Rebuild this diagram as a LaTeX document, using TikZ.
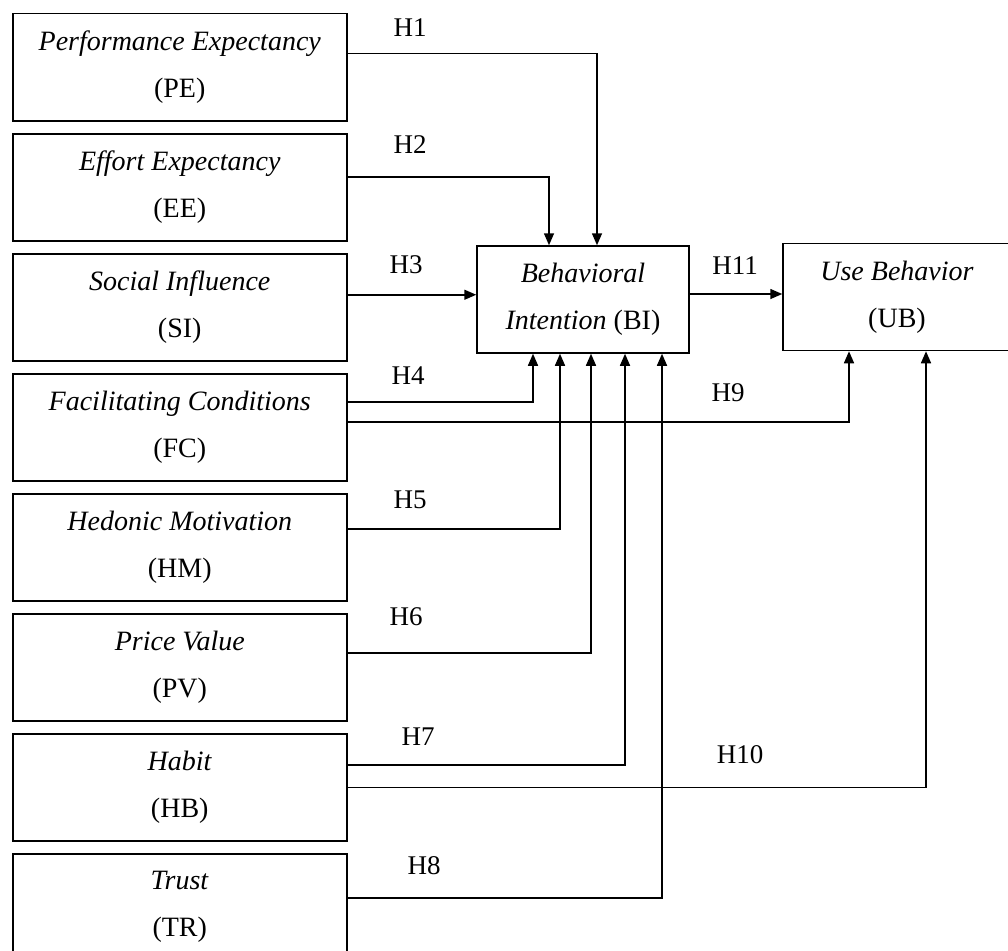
\documentclass[tikz,border=0pt]{standalone}
\usepackage{fontspec}
\setmainfont{Liberation Serif}
\usetikzlibrary{arrows.meta,positioning}

\begin{document}
\begin{tikzpicture}[
  x=1pt, y=-1pt,
  node distance=11.5pt,
  factor/.style={rectangle, draw=black, line width=1.5pt, minimum width=334pt, minimum height=107pt, inner sep=0pt, align=center, font=\fontsize{28}{47}\selectfont},
  hyp/.style={inner sep=0pt, font=\fontsize{27}{30}\selectfont},
  arrow/.style={-{Triangle[length=12pt,width=10pt]}, line width=1.5pt}
]
\useasboundingbox (0,0) rectangle (1008,950);

% left column of constructs
\node[factor, anchor=north west] (pe) at (12,13) {\textit{Performance Expectancy}\\(PE)};
\node[factor, below=of pe] (ee) {\textit{Effort Expectancy}\\(EE)};
\node[factor, below=of ee] (si) {\textit{Social Influence}\\(SI)};
\node[factor, below=of si] (fc) {\textit{Facilitating Conditions}\\(FC)};
\node[factor, below=of fc] (hm) {\textit{Hedonic Motivation}\\(HM)};
\node[factor, below=of hm] (pv) {\textit{Price Value}\\(PV)};
\node[factor, below=of pv] (hb) {\textit{Habit}\\(HB)};
\node[factor, below=of hb] (tr) {\textit{Trust}\\(TR)};

% outcomes
\node[factor, minimum width=212pt] (bi) at (583,299.5) {\textit{Behavioral}\\\textit{Intention} (BI)};
\node[factor, minimum width=228pt] (ub) at (897,297) {\textit{Use Behavior}\\(UB)};

% hypothesis labels
\node[hyp] (lh1) at (410,28) {H1};
\node[hyp] (lh2) at (410,145) {H2};
\node[hyp] (lh3) at (406,265) {H3};
\node[hyp] (lh4) at (408,376) {H4};
\node[hyp] (lh5) at (410,500) {H5};
\node[hyp] (lh6) at (406,617) {H6};
\node[hyp] (lh7) at (418,737) {H7};
\node[hyp] (lh8) at (424,866) {H8};
\node[hyp] (lh9) at (728,393) {H9};
\node[hyp] (lh10) at (740,755) {H10};
\node[hyp] (lh11) at (735,266) {H11};

\coordinate (h3) at ([yshift=12.5pt]si.east);
\coordinate (h11) at ([yshift=5.5pt]bi.east);

\draw[arrow] ([yshift=13.5pt]pe.east) -| ([xshift=14pt]bi.north);
\draw[arrow] ([yshift=10.5pt]ee.east) -| ([xshift=-34pt]bi.north);
\draw[arrow] (h3) -- (h3 -| bi.west);
\draw[arrow] ([yshift=25.5pt]fc.east) -| ([xshift=-50pt]bi.south);
\draw[arrow] ([yshift=18.5pt]hm.east) -| ([xshift=-23pt]bi.south);
\draw[arrow] ([yshift=14.5pt]pv.east) -| ([xshift=8pt]bi.south);
\draw[arrow] ([yshift=22.5pt]hb.east) -| ([xshift=42pt]bi.south);
\draw[arrow] ([yshift=9.5pt]tr.east) -| ([xshift=79pt]bi.south);
\draw[arrow] ([yshift=5.5pt]fc.east) -| ([xshift=-48pt]ub.south);
\draw[arrow] (hb.east) -| ([xshift=29pt]ub.south);
\draw[arrow] (h11) -- (h11 -| ub.west);
\end{tikzpicture}
\end{document}
